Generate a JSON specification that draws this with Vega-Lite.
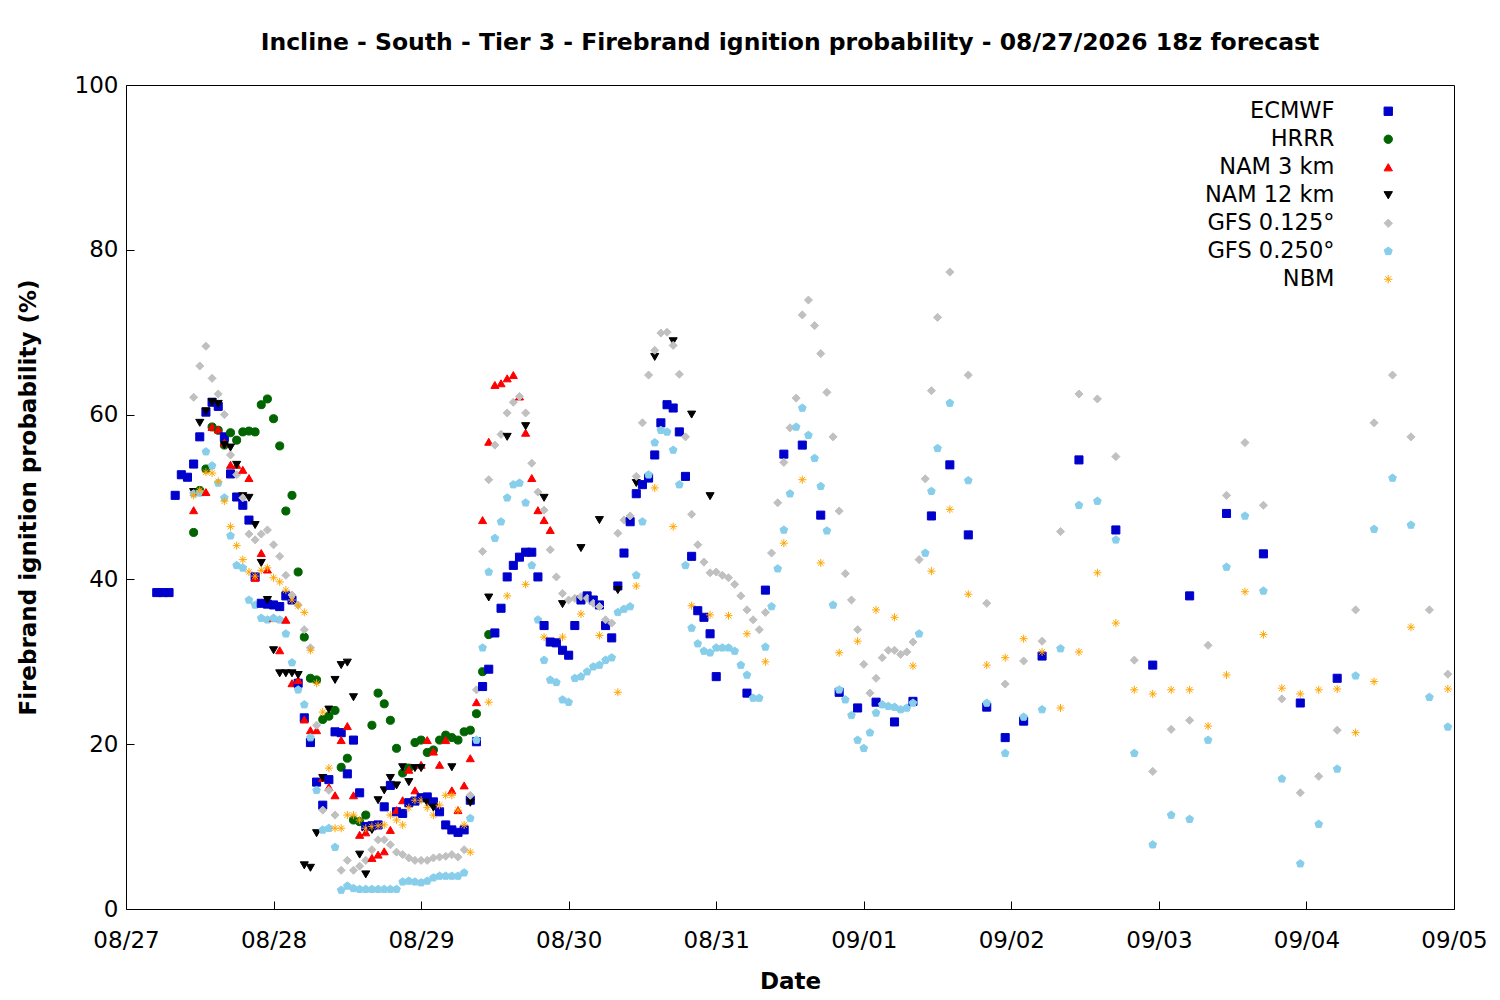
{
  "$schema": "https://vega.github.io/schema/vega-lite/v6.json",
  "autosize": {"type": "none"},
  "width": 1328,
  "height": 824,
  "padding": {"left": 126, "top": 85, "right": 46, "bottom": 91},
  "background": "white",
  "title": {"text": "Incline - South - Tier 3 - Firebrand ignition probability - 08/27/2026 18z forecast", "font": "DejaVu Sans", "fontSize": 23.5, "fontWeight": "bold", "offset": 20, "anchor": "middle", "color": "black"},
  "data": {"values": [
    {"h":5,"E":38.4},{"h":6,"E":38.4},{"h":7,"E":38.4},{"h":8,"E":50.2},{"h":9,"E":52.7},{"h":10,"E":52.4},
    {"h":11,"E":54,"H":45.7,"N3":48.4,"N12":50.6,"G1":62.1,"G2":50.4,"B":50.2},
    {"h":12,"E":57.3,"H":50.8,"N3":50.7,"N12":59,"G1":65.9,"G2":50.5,"B":50.8},
    {"h":13,"E":60.3,"H":53.4,"N3":50.6,"N12":60.4,"G1":68.3,"G2":55.5,"B":53},
    {"h":14,"E":61.5,"H":58.5,"N3":58.5,"N12":61.5,"G1":64.4,"G2":53.8,"B":52.9},
    {"h":15,"E":61,"H":58.1,"N3":58.2,"N12":61.3,"G1":62.5,"G2":51.7,"B":51.9},
    {"h":16,"E":57.3,"H":56.3,"N3":56.6,"N12":56.3,"G1":60,"G2":49.9,"B":49.5},
    {"h":17,"E":52.8,"H":57.8,"N3":53.9,"N12":56,"G1":55.1,"G2":45.3,"B":46.4},
    {"h":18,"E":50,"H":56.9,"N3":53.9,"N12":53.9,"G1":52.7,"G2":41.7,"B":44.1},
    {"h":19,"E":49,"H":57.9,"N3":53.3,"N12":50.1,"G1":49.9,"G2":41.4,"B":42.4},
    {"h":20,"E":47.2,"H":58,"N3":52.3,"N12":49.9,"G1":45.5,"G2":37.5,"B":40.9},
    {"h":21,"E":40.3,"H":57.9,"N3":40.2,"N12":46.6,"G1":44.8,"G2":36.9,"B":40.4},
    {"h":22,"E":37.1,"H":61.2,"N3":43.2,"N12":42,"G1":45.5,"G2":35.3,"B":41.1},
    {"h":23,"E":37,"H":61.9,"N3":41.2,"N12":37.5,"G1":46,"G2":35.1,"B":41.4},
    {"h":24,"E":36.9,"H":59.5,"N3":35.3,"N12":31.4,"G1":44.2,"G2":35.3,"B":40.2},
    {"h":25,"E":36.7,"H":56.2,"N3":31.4,"N12":28.6,"G1":42.8,"G2":35.1,"B":39.7},
    {"h":26,"E":38,"H":48.3,"N3":35.1,"N12":28.6,"G1":40.5,"G2":33.4,"B":38.7},
    {"h":27,"E":37.5,"H":50.2,"N3":27.4,"N12":28.6,"G1":38.1,"G2":29.9,"B":37.5},
    {"h":28,"E":27.4,"H":40.9,"N3":27.8,"N12":28.4,"G1":36.9,"G2":26.6,"B":36.8},
    {"h":29,"E":23.2,"H":33,"N3":23,"N12":5.3,"G1":33.9,"G2":24.8,"B":36},
    {"h":30,"E":20.2,"H":28,"N3":21.7,"N12":5,"G1":31.7,"G2":20.8,"B":31.4},
    {"h":31,"E":15.4,"H":27.8,"N3":21.7,"N12":9.2,"G1":22.3,"G2":14.4,"B":27.4},
    {"h":32,"E":12.6,"H":23,"N3":15.9,"N12":15.9,"G1":12,"G2":9.6,"B":23.9},
    {"h":33,"E":15.7,"H":23.4,"N3":14.8,"N12":24.2,"G1":14.4,"G2":9.8,"B":17.1},
    {"h":34,"E":21.5,"H":24.1,"N3":13.8,"N12":27.8,"G1":11.4,"G2":7.5,"B":9.8},
    {"h":35,"E":21.4,"H":17.2,"N3":20.5,"N12":29.6,"G1":4.7,"G2":2.3,"B":9.8},
    {"h":36,"E":16.4,"H":18.3,"N3":22.2,"N12":29.9,"G1":5.9,"G2":2.8,"B":11.4},
    {"h":37,"E":20.5,"H":10.8,"N3":13.8,"N12":25.7,"G1":4.7,"G2":2.5,"B":11.4},
    {"h":38,"E":14.1,"H":10.6,"N3":9,"N12":6.6,"G1":5.2,"G2":2.4,"B":10.8},
    {"h":39,"E":10,"H":11.4,"N3":9.3,"N12":4.2,"G1":5.9,"G2":2.4,"B":9.8},
    {"h":40,"E":10.1,"H":22.3,"N3":6.2,"N12":9.6,"G1":7.2,"G2":2.4,"B":10},
    {"h":41,"E":10.2,"H":26.2,"N3":6.6,"N12":13.2,"G1":8.4,"G2":2.4,"B":10.1},
    {"h":42,"E":12.4,"H":24.9,"N3":7,"N12":14.4,"G1":8.4,"G2":2.4,"B":10.2},
    {"h":43,"E":15,"H":22.9,"N3":9.6,"N12":15.9,"G1":7.8,"G2":2.4,"B":11.4},
    {"h":44,"E":11.8,"H":19.5,"N3":12,"N12":15,"G1":6.9,"G2":2.4,"B":10.8},
    {"h":45,"E":11.6,"H":16.5,"N3":13.2,"N12":17.2,"G1":6.6,"G2":3.3,"B":10.2},
    {"h":46,"E":12.9,"H":17.1,"N3":16.9,"N12":15.4,"G1":6.2,"G2":3.4,"B":12.3},
    {"h":47,"E":13.1,"H":20.2,"N3":14.4,"N12":17.1,"G1":5.9,"G2":3.3,"B":13.2},
    {"h":48,"E":13.5,"H":20.5,"N3":17.5,"N12":17.1,"G1":5.9,"G2":3.2,"B":13.2},
    {"h":49,"E":13.6,"H":19,"N3":20.5,"N12":12.9,"G1":5.9,"G2":3.4,"B":12.3},
    {"h":50,"E":13,"H":19.3,"N3":19.1,"N12":12.3,"G1":6.2,"G2":3.8,"B":11.4},
    {"h":51,"E":11.8,"H":20.5,"N3":17.5,"G1":6.3,"G2":4,"B":12.6},
    {"h":52,"E":10.2,"H":21.1,"N3":20.5,"G1":6.4,"G2":4,"B":13.8},
    {"h":53,"E":9.6,"H":20.8,"N3":14.4,"N12":17.2,"G1":6.6,"G2":4,"B":13.8},
    {"h":54,"E":9.3,"H":20.5,"N3":12,"G1":6.3,"G2":4,"B":12},
    {"h":55,"E":9.6,"H":21.5,"N3":15,"G1":7.2,"G2":4.4,"B":10.2},
    {"h":56,"E":13.2,"H":21.7,"N3":18.3,"N12":12.9,"G1":13.8,"G2":11,"B":6.9},
    {"h":57,"E":20.3,"H":23.7,"N3":25.1,"G1":26.6,"G2":20.5},
    {"h":58,"E":27,"H":28.8,"N3":47.2,"G1":43.4,"G2":31.7},
    {"h":59,"E":29.1,"H":33.3,"N3":56.7,"N12":37.8,"G1":52.1,"G2":40.9,"B":25.1},
    {"h":60,"E":33.5,"N3":63.6,"G1":56.3,"G2":45},
    {"h":61,"E":36.5,"N3":63.8,"G1":57.6,"G2":47},
    {"h":62,"E":40.3,"N3":64.4,"N12":57.3,"G1":60.2,"G2":49.9,"B":38},
    {"h":63,"E":41.7,"N3":64.8,"G1":61.5,"G2":51.5},
    {"h":64,"E":42.7,"N3":62.2,"G1":62.2,"G2":51.7},
    {"h":65,"E":43.3,"N3":57.8,"N12":58.6,"G1":60.2,"G2":49.3,"B":39.4},
    {"h":66,"E":43.3,"N3":52.3,"G1":54.1,"G2":41.7},
    {"h":67,"E":40.3,"N3":48.4,"G1":50.6,"G2":35.1},
    {"h":68,"E":34.4,"N3":47.2,"N12":49.9,"G1":48.4,"G2":30.2,"B":33},
    {"h":69,"E":32.4,"N3":46,"G1":43.6,"G2":27.8},
    {"h":70,"E":32.3,"G1":40.3,"G2":27.5},
    {"h":71,"E":31.4,"N12":37,"G1":38.3,"G2":25.4,"B":33},
    {"h":72,"E":30.8,"G1":37.5,"G2":25.1},
    {"h":73,"E":34.4,"G1":37.7,"G2":28},
    {"h":74,"E":37.5,"N12":43.8,"G1":37.9,"G2":28.2,"B":35.8},
    {"h":75,"E":38,"G1":37.7,"G2":28.8},
    {"h":76,"E":37.5,"G1":37.1,"G2":29.4},
    {"h":77,"E":36.9,"N12":47.2,"G1":36.7,"G2":29.6,"B":33.2},
    {"h":78,"E":34.4,"G1":35.1,"G2":30.2},
    {"h":79,"E":32.9,"G1":34.7,"G2":30.5},
    {"h":80,"E":39.2,"N12":38.7,"G1":45.6,"G2":36,"B":26.3},
    {"h":81,"E":43.2,"G1":47.2,"G2":36.4},
    {"h":82,"E":47,"G1":47.7,"G2":36.7},
    {"h":83,"E":50.4,"N12":51.7,"G1":52.5,"G2":40.5,"B":39.2},
    {"h":84,"E":51.5,"G1":59,"G2":47},
    {"h":85,"E":52.3,"G1":64.8,"G2":52.7},
    {"h":86,"E":55.1,"N12":67,"G1":67.8,"G2":56.6,"B":51.1},
    {"h":87,"E":59,"G1":69.9,"G2":58.1},
    {"h":88,"E":61.2,"G1":70,"G2":57.9},
    {"h":89,"E":60.8,"N12":68.9,"G1":68.4,"G2":55.7,"B":46.4},
    {"h":90,"E":57.9,"G1":64.9,"G2":51.5},
    {"h":91,"E":52.5,"G1":57.3,"G2":41.7},
    {"h":92,"E":42.8,"N12":60,"G1":47.9,"G2":34.1,"B":36.8},
    {"h":93,"E":36.2,"G1":44.2,"G2":32.2},
    {"h":94,"E":35.4,"G1":42.1,"G2":31.3},
    {"h":95,"E":33.4,"N12":50.1,"G1":40.8,"G2":31.1,"B":35.7},
    {"h":96,"E":28.2,"G1":40.9,"G2":31.7},
    {"h":97,"G1":40.5,"G2":31.7},
    {"h":98,"G1":40.2,"G2":31.7,"B":35.6},
    {"h":99,"G1":39.4,"G2":31.3},
    {"h":100,"G1":38,"G2":29.6},
    {"h":101,"E":26.2,"G1":36.3,"G2":28.4,"B":33.4},
    {"h":102,"G1":35.1,"G2":25.6},
    {"h":103,"G1":33.9,"G2":25.6},
    {"h":104,"E":38.7,"G1":36,"G2":31.8,"B":30},
    {"h":105,"G1":43.2,"G2":36.7},
    {"h":106,"G1":49.3,"G2":41.3},
    {"h":107,"E":55.2,"G1":54.2,"G2":46,"B":44.4},
    {"h":108,"G1":58.4,"G2":50.4},
    {"h":109,"G1":62,"G2":58.5},
    {"h":110,"E":56.3,"G1":72.1,"G2":60.8,"B":52.1},
    {"h":111,"G1":73.9,"G2":57.5},
    {"h":112,"G1":70.8,"G2":54.7},
    {"h":113,"E":47.8,"G1":67.4,"G2":51.3,"B":42},
    {"h":114,"G1":62.7,"G2":45.9},
    {"h":115,"G1":57.3,"G2":36.9},
    {"h":116,"E":26.3,"G1":48.3,"G2":26.6,"B":31.1},
    {"h":117,"G1":40.7,"G2":25.4},
    {"h":118,"G1":37.5,"G2":23.5},
    {"h":119,"E":24.4,"G1":33.9,"G2":20.5,"B":32.5},
    {"h":120,"G1":29.7,"G2":19.5},
    {"h":121,"G1":26.2,"G2":21.4},
    {"h":122,"E":25.1,"G1":28,"G2":23.8,"B":36.3},
    {"h":123,"G1":30.5,"G2":24.8},
    {"h":124,"G1":31.4,"G2":24.6},
    {"h":125,"E":22.7,"G1":31.4,"G2":24.5,"B":35.4},
    {"h":126,"G1":30.9,"G2":24.2},
    {"h":127,"G1":31.2,"G2":24.4},
    {"h":128,"E":25.2,"G1":32.4,"G2":25,"B":29.5},
    {"h":129,"G1":42.4,"G2":33.4},
    {"h":130,"G1":52.2,"G2":43.2},
    {"h":131,"E":47.7,"G1":62.9,"G2":50.7,"B":41},
    {"h":132,"G1":71.8,"G2":55.9},
    {"h":134,"E":53.9,"G1":77.3,"G2":61.4,"B":48.5},
    {"h":137,"E":45.4,"G1":64.8,"G2":52,"B":38.2},
    {"h":140,"E":24.5,"G1":37.1,"G2":25,"B":29.6},
    {"h":143,"E":20.8,"G1":27.3,"G2":18.9,"B":30.5},
    {"h":146,"E":22.8,"G1":30.1,"G2":23.3,"B":32.8},
    {"h":149,"E":30.7,"G1":32.5,"G2":24.2,"B":31.2},
    {"h":152,"G1":45.8,"G2":31.6,"B":24.4},
    {"h":155,"E":54.5,"G1":62.5,"G2":49,"B":31.2},
    {"h":158,"G1":61.9,"G2":49.5,"B":40.8},
    {"h":161,"E":46,"G1":54.9,"G2":44.8,"B":34.7},
    {"h":164,"G1":30.2,"G2":18.9,"B":26.6},
    {"h":167,"E":29.6,"G1":16.7,"G2":7.8,"B":26.1},
    {"h":170,"G1":21.8,"G2":11.4,"B":26.6},
    {"h":173,"E":38,"G1":22.9,"G2":10.9,"B":26.6},
    {"h":176,"G1":32,"G2":20.5,"B":22.2},
    {"h":179,"E":48,"G1":50.2,"G2":41.5,"B":28.4},
    {"h":182,"G1":56.6,"G2":47.7,"B":38.5},
    {"h":185,"E":43.1,"G1":49,"G2":38.6,"B":33.3},
    {"h":188,"G1":25.5,"G2":15.8,"B":26.8},
    {"h":191,"E":25,"G1":14.1,"G2":5.5,"B":26.1},
    {"h":194,"G1":16.1,"G2":10.3,"B":26.6},
    {"h":197,"E":28,"G1":21.7,"G2":17,"B":26.7},
    {"h":200,"G1":36.3,"G2":28.3,"B":21.4},
    {"h":203,"G1":59,"G2":46.1,"B":27.6},
    {"h":206,"G1":64.8,"G2":52.3},
    {"h":209,"G1":57.3,"G2":46.6,"B":34.2},
    {"h":212,"G1":36.3,"G2":25.7},
    {"h":215,"G1":28.5,"G2":22.1,"B":26.7}
  ]},
  "transform": [
    {"fold": ["E", "H", "N3", "N12", "G1", "G2", "B"], "as": ["model", "value"]},
    {"filter": "isValid(datum.value)"}
  ],
  "mark": {"type": "point", "filled": true, "size": 65, "strokeWidth": 1, "opacity": 1},
  "encoding": {
    "x": {"field": "h", "type": "quantitative", "scale": {"domain": [0, 216], "nice": false},
      "axis": {"values": [0, 24, 48, 72, 96, 120, 144, 168, 192, 216], "labelExpr": "timeFormat(datetime(2026, 7, 27 + datum.value / 24), '%m/%d')", "title": "Date", "labelFlush": false, "labelBound": false, "labelPadding": 28, "titlePadding": 18}},
    "y": {"field": "value", "type": "quantitative", "scale": {"domain": [0, 100], "nice": false},
      "axis": {"values": [0, 20, 40, 60, 80, 100], "title": "Firebrand ignition probability (%)", "labelFlush": false, "labelBound": false, "labelPadding": 16, "titlePadding": 34}},
    "color": {"field": "model", "type": "nominal",
      "scale": {"domain": ["E", "H", "N3", "N12", "G1", "G2", "B"], "range": ["#0000cc", "#006400", "#ff0000", "#000000", "#c0c0c0", "#87ceeb", "#ffa500"]},
      "legend": {"orient": "none", "legendX": 1251, "legendY": 15, "title": null,
        "labelExpr": "{'E':'ECMWF','H':'HRRR','N3':'NAM 3 km','N12':'NAM 12 km','G1':'GFS 0.125°','G2':'GFS 0.250°','B':'NBM'}[datum.label]",
        "labelAlign": "right", "labelOffset": -65, "labelFontSize": 22.5, "labelFont": "DejaVu Sans", "labelColor": "black", "rowPadding": 5, "symbolSize": 70, "labelLimit": 400}},
    "stroke": {"field": "model", "type": "nominal",
      "scale": {"domain": ["E", "H", "N3", "N12", "G1", "G2", "B"], "range": ["#0000cc", "#006400", "#ff0000", "#000000", "#c0c0c0", "#87ceeb", "#ffa500"]},
      "legend": null},
    "shape": {"field": "model", "type": "nominal",
      "scale": {"domain": ["E", "H", "N3", "N12", "G1", "G2", "B"], "range": ["square", "circle", "triangle-up", "triangle-down", "diamond", "M0,-1L0.95,-0.31L0.59,0.81L-0.59,0.81L-0.95,-0.31Z", "M-1,0L1,0M0,-1L0,1M-0.7,-0.7L0.7,0.7M-0.7,0.7L0.7,-0.7"]},
      "legend": null}
  },
  "config": {
    "view": {"stroke": "black", "strokeWidth": 1},
    "axis": {"grid": false, "domain": false, "labelFont": "DejaVu Sans", "labelFontSize": 23, "labelColor": "black", "tickColor": "black", "tickSize": -8, "titleFont": "DejaVu Sans", "titleFontSize": 23, "titleFontWeight": "bold", "titleColor": "black"},
    "legend": {"symbolStrokeWidth": 1}
  }
}
